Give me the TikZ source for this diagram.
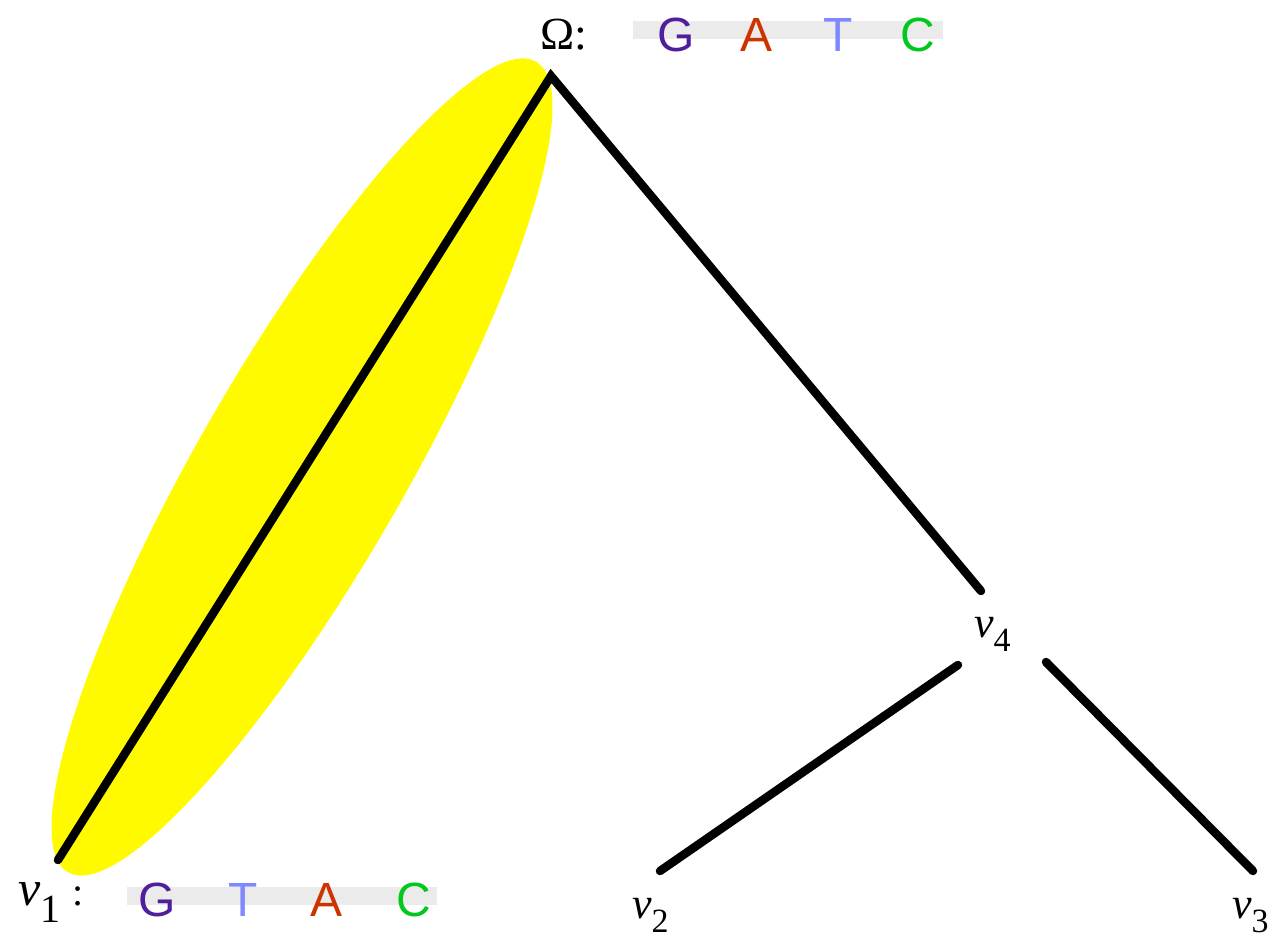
\documentclass[tikz,border=0pt]{standalone}
\usepackage{fontspec}
\setmainfont{Liberation Serif}
\newfontfamily\seqfont{Liberation Sans}
\definecolor{gpurple}{HTML}{4F1F9C}
\definecolor{ared}{HTML}{CC3300}
\definecolor{tblue}{HTML}{7F88FF}
\definecolor{cgreen}{HTML}{00C81E}
\definecolor{bargray}{HTML}{EBEBEB}
\definecolor{hiyellow}{HTML}{FFFA00}
\newcommand{\vlab}[3]{\fontsize{#2}{#2}\selectfont\textit{v}\raisebox{-0.34em}{\fontsize{#3}{#3}\selectfont #1}}
\begin{document}
\begin{tikzpicture}[x=1pt,y=-1pt,
  edge/.style={line width=8.5pt,line cap=round,line join=miter,black},
  seqletter/.style={inner sep=0pt,anchor=base,font=\seqfont\fontsize{48}{48}\selectfont},
  lbl/.style={inner sep=0pt,anchor=base west}]
\useasboundingbox (0,0) rectangle (1278,939);
% highlight
\fill[hiyellow, rotate around={60:(302,467)}] (302,467) ellipse (468 and 103);
% gray bars
\fill[bargray] (633,21) rectangle (943,39);
\fill[bargray] (127,887) rectangle (437,905);
% endpoints
\coordinate (root) at (551,76);
\coordinate (e1) at (58,860);
\coordinate (e4top) at (981,591);
\coordinate (e4l) at (958,665);
\coordinate (e4r) at (1046,662);
\coordinate (e2) at (660,871);
\coordinate (e3) at (1253,871);
% edges
\draw[edge] (e1) -- (root) -- (e4top);
\draw[edge] (e4l) -- (e2);
\draw[edge] (e4r) -- (e3);
% labels
\node[lbl] (omega) at (540,50) {\fontsize{46}{46}\selectfont Ω:};
\node[seqletter,text=gpurple] (tG) at (676,52) {G};
\node[seqletter,text=ared] (tA) at (757,52) {A};
\node[seqletter,text=tblue] (tT) at (838,52) {T};
\node[seqletter,text=cgreen] (tC) at (918,52) {C};
\node[lbl] (v1) at (18,905) {\vlab{1}{50}{40}\fontsize{40}{40}\selectfont\hspace{0.3em}:};
\node[seqletter,text=gpurple] (bG) at (157,916) {G};
\node[seqletter,text=tblue] (bT) at (243,916) {T};
\node[seqletter,text=ared] (bA) at (327,916) {A};
\node[seqletter,text=cgreen] (bC) at (414,916) {C};
\node[lbl] (v4) at (974,637) {\vlab{4}{44}{34}};
\node[lbl] (v2) at (632,918) {\vlab{2}{44}{34}};
\node[lbl] (v3) at (1232,918) {\vlab{3}{44}{34}};
\end{tikzpicture}
\end{document}
